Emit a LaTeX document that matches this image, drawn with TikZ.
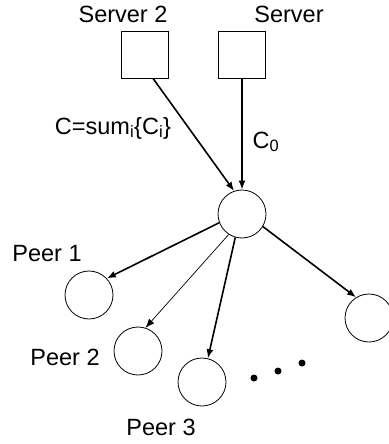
\documentclass[tikz,border=0pt]{standalone}
\usepackage{fontspec}
\setmainfont{Liberation Sans}
\usetikzlibrary{arrows.meta}
\begin{document}
\begin{tikzpicture}[x=1pt,y=-1pt,
  box/.style={draw,line width=0.8pt,minimum width=47pt,minimum height=47pt,inner sep=0pt},
  peer/.style={draw,circle,line width=0.8pt,minimum size=48pt,inner sep=0pt},
  lbl/.style={font=\fontsize{23.5}{26}\selectfont,inner sep=0pt},
  thickarr/.style={line width=1.6pt,-{Latex[length=9pt,width=7pt]}},
  thinarr/.style={line width=0.7pt,-{Latex[length=9pt,width=7pt]}},
  dot/.style={circle,fill=black,minimum size=7pt,inner sep=0pt}]
\useasboundingbox (0,0) rectangle (388,444);
\node[box] (s2) at (145,54.5) {};
\node[box] (s1) at (242,54.5) {};
\node[lbl] (s2l) at (123,14) {Server 2};
\node[lbl] (s1l) at (289,14) {Server};
\node[peer] (c) at (242,214) {};
\node[peer] (p1) at (89,295) {};
\node[peer] (p2) at (138,351) {};
\node[peer] (p3) at (202,382) {};
\node[peer] (p4) at (369,318) {};
\node[lbl] (p1l) at (47,254) {Peer 1};
\node[lbl] (p2l) at (65,357) {Peer 2};
\node[lbl] (p3l) at (161,427) {Peer 3};
\node[lbl] (cl) at (113,128) {C=sum\textsubscript{i}\{C\textsubscript{i}\}};
\node[lbl] (c0l) at (266,142) {C\textsubscript{0}};
\node[dot] (d1) at (254,378) {};
\node[dot] (d2) at (278,371) {};
\node[dot] (d3) at (302,363) {};
\draw[thickarr] ([xshift=8pt]s2.south) -- (c.109);
\draw[thickarr] (s1.south) -- (c.north);
\draw[thickarr] (c.201) -- (p1.43);
\draw[thinarr] (c.237) -- (p2.72);
\draw[thickarr] (c.254) -- (p3.76);
\draw[thickarr] (c.-31) -- (p4.122);
\end{tikzpicture}
\end{document}
